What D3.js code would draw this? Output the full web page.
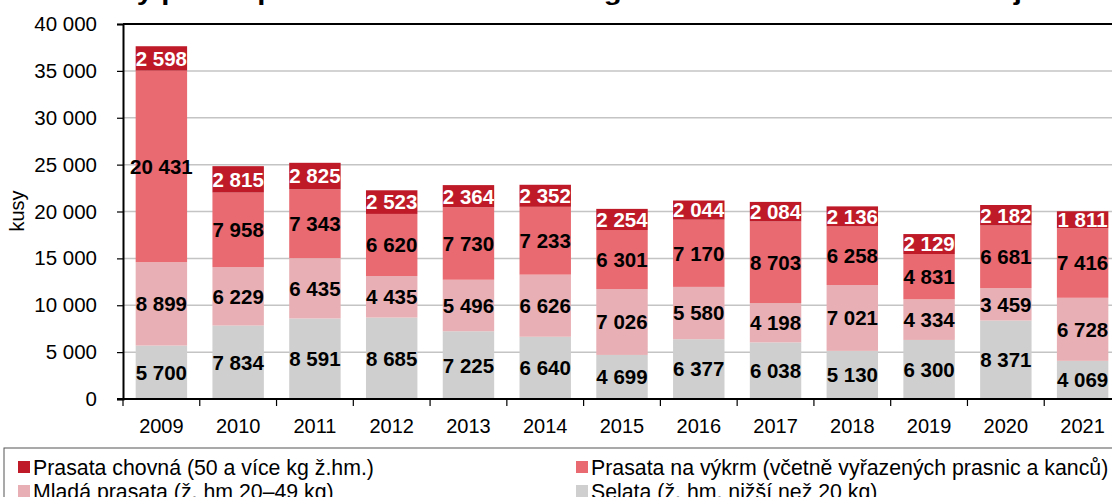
<!DOCTYPE html>
<html>
<head>
<meta charset="utf-8">
<script src="https://cdn.jsdelivr.net/npm/d3@7"></script>
<style>
  html, body { margin: 0; padding: 0; background: #fff; overflow: hidden; }
  text { font-family: "Liberation Sans", Arial, sans-serif; }
</style>
</head>
<body>
<div id="chart"></div>
<script>
// data
const years = ["2009", "2010", "2011", "2012", "2013", "2014", "2015", "2016", "2017", "2018", "2019", "2020", "2021"];
const selata  = [5700, 7834, 8591, 8685, 7225, 6640, 4699, 6377, 6038, 5130, 6300, 8371, 4069];
const mlada   = [8899, 6229, 6435, 4435, 5496, 6626, 7026, 5580, 4198, 7021, 4334, 3459, 6728];
const vykrm   = [20431, 7958, 7343, 6620, 7730, 7233, 6301, 7170, 8703, 6258, 4831, 6681, 7416];
const chovna  = [2598, 2815, 2825, 2523, 2364, 2352, 2254, 2044, 2084, 2136, 2129, 2182, 1811];
const yTicks  = [0, 5000, 10000, 15000, 20000, 25000, 30000, 35000, 40000];

// series from bottom to top
const series = [
    { key: "selata", name: "Selata (ž. hm. nižší než 20 kg)", values: selata, color: "#cfcfcf", label: "#000" },
    { key: "mlada", name: "Mladá prasata (ž. hm 20–49 kg)", values: mlada, color: "#e8b0b4", label: "#000" },
    { key: "vykrm", name: "Prasata na výkrm (včetně vyřazených prasnic a kanců)", values: vykrm, color: "#e96a71", label: "#000" },
    { key: "chovna", name: "Prasata chovná (50 a více kg ž.hm.)", values: chovna, color: "#be1a28", label: "#fff" }
];

const W = 1112, H = 497;
const fmt = d3.formatLocale({ decimal: ",", thousands: "\u00a0", grouping: [3], currency: ["", ""] }).format(",d");

const svg = d3.select("#chart").append("svg")
    .attr("width", W)
    .attr("height", H);

// 按年份组织表格，供 d3.stack 使用
const table = years.map((y, i) => {
    const row = { year: y };
    series.forEach(s => { row[s.key] = s.values[i]; });
    return row;
});
const stacked = d3.stack().keys(series.map(s => s.key))(table);

const x = d3.scaleBand().domain(years).range([123, 1121]).paddingInner(0.33).paddingOuter(0.165);
const y = d3.scaleLinear().domain([0, 40000]).range([399, 24]);

// 标题（顶部被裁掉）
svg.append("text")
    .attr("x", 75)
    .attr("y", 0)
    .attr("font-size", "24px")
    .attr("font-weight", "bold")
    .attr("textLength", 955)
    .attr("lengthAdjust", "spacingAndGlyphs")
    .text("Stavy prasat podle hmotnostních kategorií v Královéhradeckém kraji");

// 网格线
svg.append("g")
    .selectAll("line")
    .data(yTicks.filter(d => d > 0))
    .enter()
    .append("line")
    .attr("x1", 123).attr("x2", W)
    .attr("y1", d => y(d)).attr("y2", d => y(d))
    .attr("stroke", d => d === 40000 ? "#000" : "#c4c4c4")
    .attr("stroke-width", d => d === 40000 ? 2 : 1.5);

// 堆叠柱
const layers = svg.append("g")
    .selectAll("g")
    .data(stacked)
    .enter()
    .append("g")
    .attr("fill", (d, i) => series[i].color);

layers.selectAll("rect")
    .data(d => d)
    .enter()
    .append("rect")
    .attr("x", d => x(d.data.year))
    .attr("width", x.bandwidth())
    .attr("y", d => y(d[1]))
    .attr("height", d => y(d[0]) - y(d[1]));

// 数值标签
stacked.forEach((layer, i) => {
    svg.append("g")
        .selectAll("text")
        .data(layer)
        .enter()
        .append("text")
        .attr("x", d => x(d.data.year) + x.bandwidth() / 2)
        .attr("y", d => (y(d[0]) + y(d[1])) / 2)
        .attr("dy", "0.36em")
        .attr("text-anchor", "middle")
        .attr("font-size", "20.5px")
        .attr("font-weight", "bold")
        .attr("fill", series[i].label)
        .text(d => fmt(d[1] - d[0]));
});

// Y 轴
const yAxis = svg.append("g")
    .attr("transform", "translate(123,0)")
    .call(d3.axisLeft(y).tickValues(yTicks).tickSize(6).tickPadding(20).tickFormat(fmt));
yAxis.select(".domain").attr("stroke", "#000").attr("stroke-width", 2);
yAxis.selectAll(".tick line").attr("stroke", "#000").attr("stroke-width", 1.2);
yAxis.selectAll("text")
    .attr("font-size", "20.5px")
    .attr("fill", "#000")
    .style("font-family", "'Liberation Sans', Arial, sans-serif");

// X 轴
const xAxisG = svg.append("g").attr("transform", "translate(0,399)");
xAxisG.append("line")
    .attr("x1", 117).attr("x2", W)
    .attr("y1", 0).attr("y2", 0)
    .attr("stroke", "#000").attr("stroke-width", 2);
xAxisG.selectAll("line.tk")
    .data(years)
    .enter()
    .append("line")
    .attr("class", "tk")
    .attr("x1", d => x(d) - x.step() * x.paddingInner() / 2)
    .attr("x2", d => x(d) - x.step() * x.paddingInner() / 2)
    .attr("y1", 0).attr("y2", 7)
    .attr("stroke", "#000").attr("stroke-width", 1.2);
xAxisG.selectAll("text")
    .data(years)
    .enter()
    .append("text")
    .attr("x", d => x(d) + x.bandwidth() / 2)
    .attr("y", 27)
    .attr("dy", "0.36em")
    .attr("text-anchor", "middle")
    .attr("font-size", "20px")
    .text(d => d);

// Y 轴标题
svg.append("text")
    .attr("transform", "translate(24,211) rotate(-90)")
    .attr("text-anchor", "middle")
    .attr("font-size", "20px")
    .text("kusy");

// 图例
const legend = svg.append("g");
legend.append("rect")
    .attr("x", 4).attr("y", 448)
    .attr("width", 1120).attr("height", 60)
    .attr("fill", "none")
    .attr("stroke", "#555")
    .attr("stroke-width", 1);

const legendOrder = [
    { s: series[3], x: 18, y: 467 },
    { s: series[2], x: 576, y: 467 },
    { s: series[1], x: 18, y: 491 },
    { s: series[0], x: 576, y: 491 }
];
const items = legend.selectAll("g.item")
    .data(legendOrder)
    .enter()
    .append("g")
    .attr("class", "item")
    .attr("transform", d => `translate(${d.x},${d.y})`);
items.append("rect")
    .attr("x", 0).attr("y", -6)
    .attr("width", 12).attr("height", 12)
    .attr("fill", d => d.s.color);
items.append("text")
    .attr("x", 15)
    .attr("y", 0)
    .attr("dy", "0.36em")
    .attr("font-size", "21.3px")
    .text(d => d.s.name);
</script>
</body>
</html>
